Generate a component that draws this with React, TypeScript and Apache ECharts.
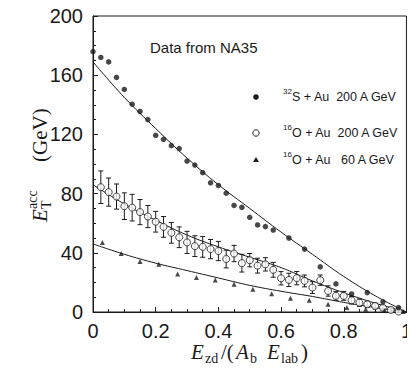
import React, { useEffect, useRef } from "react";
import * as echarts from "echarts";

// 32S + Au 200 A GeV (filled circles)
const s32Data: number[][] = [
  [0, 176], [0.025, 172], [0.05, 169], [0.075, 158.5], [0.1, 150.4], [0.125, 140.4],
  [0.15, 135.5], [0.175, 130], [0.2, 119.4], [0.225, 116.7], [0.25, 112.4], [0.275, 110.4],
  [0.3, 102], [0.325, 99.3], [0.35, 94.1], [0.375, 87.3], [0.4, 85.5], [0.425, 80.3],
  [0.45, 72], [0.475, 70.7], [0.5, 64], [0.525, 58.8], [0.55, 57.7], [0.575, 55.4],
  [0.625, 50], [0.675, 42.5], [0.725, 30.5], [0.775, 19], [0.825, 12.2], [0.875, 13.1],
  [0.925, 6.9], [0.975, 3],
];

// 16O + Au 200 A GeV (open circles) : [x, y, error]
const o200Data: number[][] = [
  [0.025, 84.3, 11], [0.05, 81, 9.5], [0.075, 78, 8.5], [0.1, 71.5, 9], [0.125, 70.5, 9],
  [0.15, 67.5, 8.5], [0.175, 64.5, 7.5], [0.2, 61, 7], [0.225, 57.5, 7], [0.25, 53.5, 7],
  [0.275, 50.5, 7], [0.3, 47, 7.5], [0.325, 44.5, 7], [0.35, 44, 7], [0.375, 42.5, 6.5],
  [0.4, 41.2, 6.5], [0.425, 35.8, 6], [0.45, 39.5, 5.5], [0.475, 33, 6], [0.5, 35, 4.5],
  [0.525, 31.3, 5], [0.55, 32.2, 4.5], [0.575, 28.5, 5], [0.6, 22.8, 4.5], [0.625, 21.7, 4.5],
  [0.65, 22.9, 4.5], [0.675, 21, 4], [0.7, 16.5, 4], [0.725, 21.5, 3.5], [0.75, 14.2, 3.5],
  [0.775, 10.9, 3], [0.8, 10.9, 3], [0.825, 7.9, 2.5], [0.85, 6.3, 2.5], [0.875, 5.2, 2],
  [0.9, 4.1, 2], [0.925, 2.9, 1.5], [0.95, 1.4, 1.5], [0.975, 0.3, 1],
];

// 16O + Au 60 A GeV (triangles)
const o60Data: number[][] = [
  [0.03, 47], [0.09, 39.6], [0.15, 34.1], [0.21, 32.3], [0.27, 25.6], [0.33, 23.3],
  [0.39, 21.7], [0.45, 18.8], [0.51, 15.4], [0.57, 12.4], [0.63, 9.3], [0.69, 8],
  [0.75, 5.2], [0.81, 3], [0.87, 1.8], [0.93, 1], [0.99, 0.4],
];

// fitted curves
const fitS32: number[][] = [
  [0, 169], [0.1, 145], [0.2, 124], [0.3, 104], [0.4, 86], [0.5, 70], [0.6, 54],
  [0.7, 39], [0.8, 24], [0.9, 11], [1, 0],
];
const fitO200: number[][] = [
  [0, 86], [0.1, 73], [0.2, 62], [0.3, 52], [0.4, 44], [0.5, 37], [0.6, 30],
  [0.7, 21], [0.8, 13], [0.9, 6], [1, 0],
];
const fitO60: number[][] = [
  [0, 46], [0.1, 39], [0.2, 33], [0.3, 28], [0.4, 23], [0.5, 18], [0.6, 14],
  [0.7, 10.5], [0.8, 6.5], [0.9, 3], [1, 0],
];

const legendLabels = [
  { sup: "32", text: "S + Au  200 A GeV" },
  { sup: "16", text: "O + Au  200 A GeV" },
  { sup: "16", text: "O + Au   60 A GeV" },
];
const noteText = "Data from NA35";

const INK = "#1a1a1a";
const SANS = "'Liberation Sans', Arial, Helvetica, sans-serif";
const SERIF = "'Liberation Serif', 'Times New Roman', serif";

export default function App() {
  const ref = useRef<HTMLDivElement>(null);
  useEffect(() => {
    if (!ref.current) return;
    const chart = echarts.init(ref.current, undefined, { renderer: "svg" });

    const legendY = [97, 133, 160];
    const legendSymbols: any[] = [
      { type: "circle", shape: { cx: 256, cy: legendY[0], r: 2.8 }, style: { fill: INK } },
      { type: "circle", shape: { cx: 256, cy: legendY[1], r: 3.2 }, style: { fill: "#fff", stroke: INK, lineWidth: 1 } },
      { type: "polygon", shape: { points: [[256, legendY[2] - 3], [253, legendY[2] + 2], [259, legendY[2] + 2]] }, style: { fill: INK } },
    ];
    const legendTexts: any[] = [];
    legendLabels.forEach((l, i) => {
      legendTexts.push({
        type: "text", x: 283, y: legendY[i] - 6,
        style: { text: l.sup, font: `8px ${SANS}`, fill: INK, textVerticalAlign: "middle" },
      });
      legendTexts.push({
        type: "text", x: 292, y: legendY[i],
        style: { text: l.text, font: `12.5px ${SANS}`, fill: INK, textVerticalAlign: "middle" },
      });
    });

    const it = `italic 21px ${SERIF}`;
    const rm = `21px ${SERIF}`;
    const sb = `14px ${SERIF}`;
    const xTitle = {
      type: "group", x: 191, y: 352,
      children: [
        { type: "text", x: 0, y: 0, style: { text: "E", font: it, fill: INK, textVerticalAlign: "middle" } },
        { type: "text", x: 14, y: 6, style: { text: "zd", font: sb, fill: INK, textVerticalAlign: "middle" } },
        { type: "text", x: 30, y: 0, style: { text: "/(", font: rm, fill: INK, textVerticalAlign: "middle" } },
        { type: "text", x: 45, y: 0, style: { text: "A", font: it, fill: INK, textVerticalAlign: "middle" } },
        { type: "text", x: 59, y: 6, style: { text: "b", font: sb, fill: INK, textVerticalAlign: "middle" } },
        { type: "text", x: 76, y: 0, style: { text: "E", font: it, fill: INK, textVerticalAlign: "middle" } },
        { type: "text", x: 90, y: 6, style: { text: "lab", font: sb, fill: INK, textVerticalAlign: "middle" } },
        { type: "text", x: 110, y: 0, style: { text: ")", font: rm, fill: INK, textVerticalAlign: "middle" } },
      ],
    };
    const yTitle = {
      type: "group", x: 40, y: 222, rotation: Math.PI / 2,
      children: [
        { type: "text", x: 0, y: 0, style: { text: "E", font: it, fill: INK, textVerticalAlign: "middle" } },
        { type: "text", x: 13, y: 6, style: { text: "T", font: sb, fill: INK, textVerticalAlign: "middle" } },
        { type: "text", x: 13, y: -8, style: { text: "acc", font: sb, fill: INK, textVerticalAlign: "middle" } },
        { type: "text", x: 60, y: 0, style: { text: "(GeV)", font: rm, fill: INK, textVerticalAlign: "middle" } },
      ],
    };

    const fitLine = (data: number[][]) => ({
      type: "line", data, smooth: 0.4, showSymbol: false, silent: true,
      lineStyle: { color: INK, width: 1 }, z: 2,
    });

    chart.setOption({
      animation: false,
      grid: {
        left: 93, top: 16, right: 2, bottom: 70,
        show: true, borderColor: INK, borderWidth: 1, backgroundColor: "transparent",
      },
      xAxis: {
        type: "value", min: 0, max: 1, interval: 0.2,
        axisLine: { show: true, lineStyle: { color: INK, width: 1 } },
        axisTick: { show: true, inside: true, length: 5, lineStyle: { color: INK } },
        minorTick: { show: true, splitNumber: 4, length: 3, lineStyle: { color: INK } },
        splitLine: { show: false },
        axisLabel: {
          color: INK, fontSize: 20, fontFamily: SANS, margin: 9,
          formatter: (v: number) => (v === 0 ? "0" : v === 1 ? "1" : v.toFixed(1)),
        },
      },
      yAxis: {
        type: "value", min: 0, max: 200, interval: 40,
        axisLine: { show: true, lineStyle: { color: INK, width: 1 } },
        axisTick: { show: true, inside: true, length: 5, lineStyle: { color: INK } },
        minorTick: { show: true, splitNumber: 4, length: 3, lineStyle: { color: INK } },
        splitLine: { show: false },
        axisLabel: { color: INK, fontSize: 20, fontFamily: SANS, margin: 10 },
      },
      graphic: [
        { type: "text", x: 150, y: 47, style: { text: noteText, font: `15px ${SANS}`, fill: INK, textVerticalAlign: "middle" } },
        ...legendSymbols,
        ...legendTexts,
        xTitle,
        yTitle,
      ],
      series: [
        fitLine(fitS32),
        fitLine(fitO200),
        fitLine(fitO60),
        {
          type: "custom", data: o200Data, clip: true, z: 3,
          renderItem: (_p: any, api: any) => {
            const x = api.value(0), y = api.value(1), e = api.value(2);
            const t = api.coord([x, y + e]);
            const b = api.coord([x, y - e]);
            const w = 2.5;
            return {
              type: "group",
              children: [
                { type: "line", shape: { x1: t[0], y1: t[1], x2: b[0], y2: b[1] }, style: { stroke: INK, lineWidth: 1 } },
                { type: "line", shape: { x1: t[0] - w, y1: t[1], x2: t[0] + w, y2: t[1] }, style: { stroke: INK, lineWidth: 1 } },
                { type: "line", shape: { x1: b[0] - w, y1: b[1], x2: b[0] + w, y2: b[1] }, style: { stroke: INK, lineWidth: 1 } },
              ],
            };
          },
        },
        {
          type: "scatter", data: o200Data.map((d) => [d[0], d[1]]), symbol: "circle", symbolSize: 7,
          itemStyle: { color: "#fff", borderColor: INK, borderWidth: 1 }, z: 4,
        },
        {
          type: "scatter", data: s32Data, symbol: "circle", symbolSize: 5.5,
          itemStyle: { color: INK }, z: 5,
        },
        {
          type: "scatter", data: o60Data, symbol: "triangle", symbolSize: 5,
          itemStyle: { color: INK }, z: 5,
        },
      ],
    });
    return () => chart.dispose();
  }, []);
  return <div ref={ref} style={{ width: 415, height: 382, margin: -8 }} />;
}
